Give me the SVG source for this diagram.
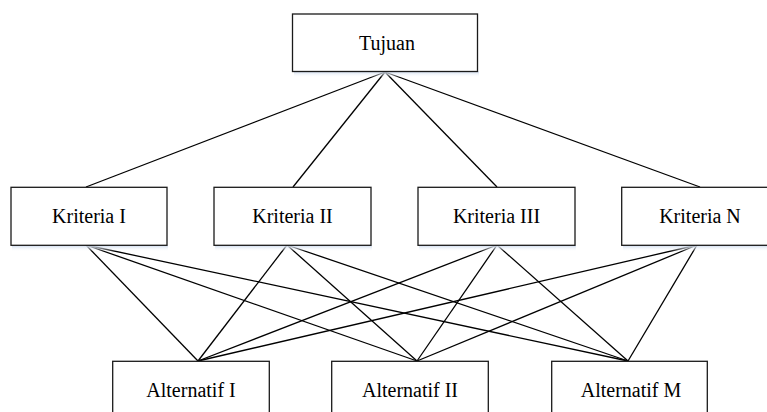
<svg xmlns="http://www.w3.org/2000/svg" width="767" height="412" viewBox="0 0 767 412">
<defs>
<linearGradient id="sh" x1="0" y1="0" x2="0" y2="1">
<stop offset="0" stop-color="#cfdcee"/>
<stop offset="1" stop-color="#ffffff" stop-opacity="0"/>
</linearGradient>
</defs>
<style>
.box{fill:#ffffff;stroke:#1a1a1a;stroke-width:1.3}
.shadow{fill:url(#sh)}
.lbl{font-family:"Liberation Serif","Times New Roman",serif;font-size:20px;fill:#000;text-anchor:middle}
.edge{stroke:#000;stroke-width:1.3;fill:none}
</style>
<rect width="767" height="412" fill="#ffffff"/>
<g id="connectors">
<line class="edge" x1="385" y1="72" x2="86" y2="187"/>
<line class="edge" x1="385" y1="72" x2="293" y2="187"/>
<line class="edge" x1="385" y1="72" x2="497" y2="187"/>
<line class="edge" x1="385" y1="72" x2="700" y2="187"/>
<line class="edge" x1="86" y1="245" x2="198" y2="361"/>
<line class="edge" x1="86" y1="245" x2="417" y2="361"/>
<line class="edge" x1="86" y1="245" x2="628" y2="361"/>
<line class="edge" x1="287" y1="245" x2="198" y2="361"/>
<line class="edge" x1="287" y1="245" x2="417" y2="361"/>
<line class="edge" x1="287" y1="245" x2="628" y2="361"/>
<line class="edge" x1="497" y1="245" x2="198" y2="361"/>
<line class="edge" x1="497" y1="245" x2="417" y2="361"/>
<line class="edge" x1="497" y1="245" x2="628" y2="361"/>
<line class="edge" x1="697" y1="245" x2="198" y2="361"/>
<line class="edge" x1="697" y1="245" x2="417" y2="361"/>
<line class="edge" x1="697" y1="245" x2="628" y2="361"/>
</g>
<g id="tujuan">
<rect class="shadow" x="294" y="71.5" width="185" height="6"/>
<rect class="box" x="292.5" y="14" width="185" height="57.5"/>
<text class="lbl" x="387" y="49.5">Tujuan</text>
</g>
<g id="kriteria1">
<rect class="shadow" x="12" y="245.5" width="156" height="6"/>
<rect class="box" x="11" y="187.3" width="156" height="58"/>
<text class="lbl" x="89" y="223.3">Kriteria I</text>
</g>
<g id="kriteria2">
<rect class="shadow" x="215" y="245.5" width="157" height="6"/>
<rect class="box" x="214" y="187.3" width="157" height="58"/>
<text class="lbl" x="292.5" y="223.3">Kriteria II</text>
</g>
<g id="kriteria3">
<rect class="shadow" x="419" y="245.5" width="157" height="6"/>
<rect class="box" x="418" y="187.3" width="157" height="58"/>
<text class="lbl" x="496.5" y="223.3">Kriteria III</text>
</g>
<g id="kriterian">
<rect class="shadow" x="623" y="245.5" width="157" height="6"/>
<rect class="box" x="621.7" y="187.3" width="157" height="58"/>
<text class="lbl" x="700" y="223.3">Kriteria N</text>
</g>
<g id="alternatif1">
<rect class="box" x="112.7" y="361.3" width="156.6" height="60"/>
<text class="lbl" x="191" y="396.7">Alternatif I</text>
</g>
<g id="alternatif2">
<rect class="box" x="331.7" y="361.3" width="156.6" height="60"/>
<text class="lbl" x="410" y="396.7">Alternatif II</text>
</g>
<g id="alternatifm">
<rect class="box" x="551.7" y="361.3" width="155.6" height="60"/>
<text class="lbl" x="631" y="396.7">Alternatif M</text>
</g>
</svg>
